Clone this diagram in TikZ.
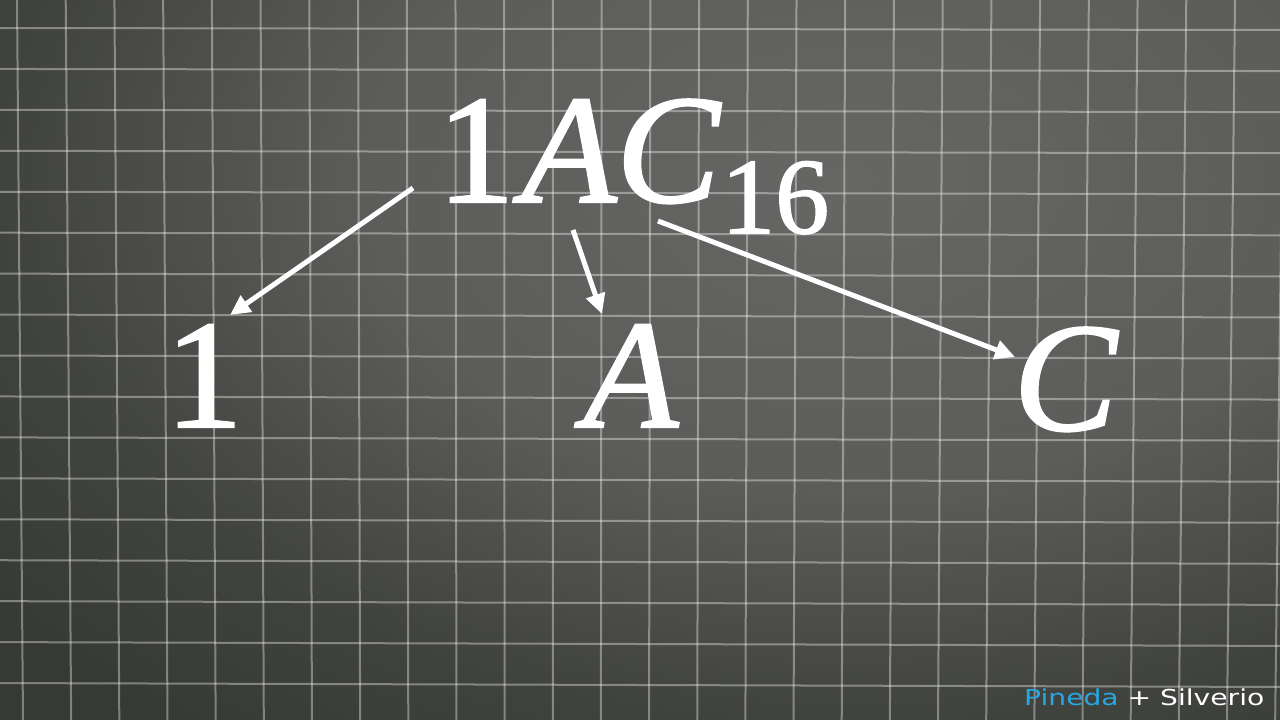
\documentclass[tikz,border=0pt]{standalone}
\usepackage{graphicx}
\usepackage{fontspec}
\setmainfont{Liberation Serif}
\newfontfamily\numfont[FakeBold=1.5]{Liberation Serif}
\newfontfamily\sigfont{DejaVu Sans}
\usetikzlibrary{arrows.meta}
\definecolor{bgin}{HTML}{666764}
\definecolor{bgmid}{HTML}{5C5D5A}
\definecolor{bgdark}{HTML}{41433F}
\definecolor{bgout}{HTML}{363935}
\definecolor{sigblue}{RGB}{38,168,228}
\pgfdeclareradialshading{board}{\pgfpoint{0bp}{0bp}}{color(0bp)=(bgin); color(11bp)=(bgmid); color(19bp)=(bgdark); color(25bp)=(bgout); color(50bp)=(bgout)}
\begin{document}
\begin{tikzpicture}[x=1pt,y=-1pt,
  gridline/.style={draw=white, draw opacity=0.37, line width=2pt},
  bigtxt/.style={text=white, inner sep=0pt, font=\numfont\fontsize{155}{160}\selectfont},
  arr/.style={draw=white, line width=5pt, -{Triangle[length=20pt,width=19pt]}},
  sigstyle/.style={anchor=base west, inner sep=0pt, font=\sigfont\fontsize{22}{24}\selectfont}]
\useasboundingbox (0,0) rectangle (1280,720);
\begin{scope}
  \clip (0,0) rectangle (1280,720);
  \fill[bgout] (0,0) rectangle (1280,720);
  \shade[shading=board] (850,180) ellipse[x radius=1100, y radius=700];
  \foreach \k in {0,...,26}
    \draw[gridline] ({17+48.72*\k},0) -- ({23+48.16*\k},720);
  \foreach \j in {0,...,16}
    \draw[gridline] (0,{28+40.94*\j}) -- (1280,{30+41.06*\j});
\end{scope}
% main number
\node[bigtxt, anchor=base west] (num) at (437,202)
  {1\kern7pt\textit{AC}\raisebox{-31pt}{\fontsize{108}{110}\selectfont 16}};
% digits
\node[bigtxt, anchor=base] (d1) at (204,427) {1};
\node[bigtxt, anchor=base] (dA) at (631,427) {\textit{A}};
\node[bigtxt, anchor=base] (dC) at (1066,430) {\textit{C}};
% arrow ends
\coordinate (s1) at (413,188);
\coordinate (t1) at (230,315);
\coordinate (s2) at (573,230);
\coordinate (t2) at (602,314);
\coordinate (s3) at (658,221);
\coordinate (t3) at (1015,357);
\draw[arr] (s1) -- (t1);
\draw[arr] (s2) -- (t2);
\draw[arr] (s3) -- (t3);
% signature
\node[sigstyle] (sig) at (1024,705)
  {\scalebox{1.28}[1]{\textcolor{sigblue}{Pineda} \textcolor{white}{+ Silverio}}};
\end{tikzpicture}
\end{document}
